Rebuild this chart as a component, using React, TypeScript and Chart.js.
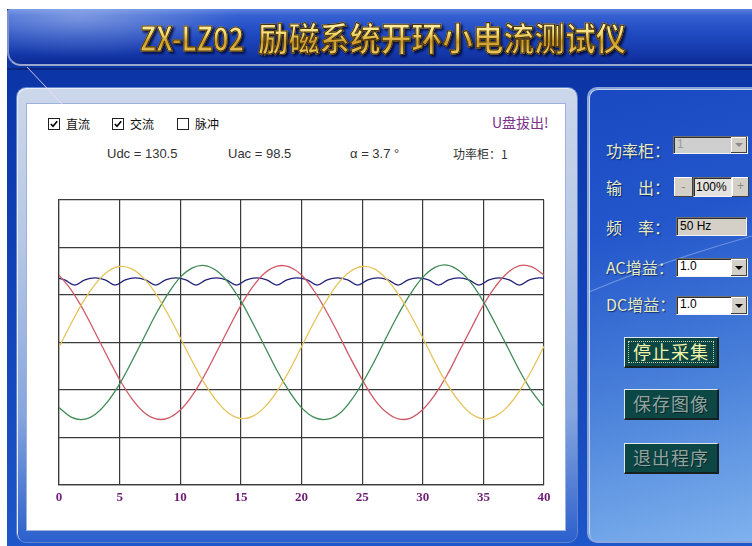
import React, { useEffect, useRef } from "react";
import { Chart, registerables } from "chart.js";

Chart.register(...registerables);

// ---------- data (time in ms, amplitude in grid divisions) ----------
const timeMs = [
  0, 1, 2, 3, 4, 5, 6, 7, 8, 9, 10, 11, 12, 13, 14, 15, 16, 17, 18, 19, 20,
  21, 22, 23, 24, 25, 26, 27, 28, 29, 30, 31, 32, 33, 34, 35, 36, 37, 38, 39, 40,
];
// yellow phase
const phaseA = [
  -0.1, 0.4, 0.86, 1.23, 1.49, 1.6, 1.55, 1.35, 1.02, 0.59, 0.1, -0.4, -0.86, -1.23, -1.49, -1.6, -1.55, -1.35, -1.02, -0.59,
  -0.09, 0.41, 0.86, 1.24, 1.49, 1.6, 1.55, 1.34, 1.01, 0.58, 0.1, -0.41, -0.87, -1.24, -1.5, -1.61, -1.55, -1.35, -1.01, -0.58,
  -0.08,
];
// green phase
const phaseB = [
  -1.37, -1.57, -1.62, -1.51, -1.25, -0.87, -0.4, 0.1, 0.6, 1.03, 1.37, 1.57, 1.62, 1.51, 1.25, 0.87, 0.4, -0.1, -0.6, -1.03,
  -1.37, -1.57, -1.62, -1.52, -1.25, -0.86, -0.4, 0.11, 0.6, 1.03, 1.37, 1.58, 1.63, 1.51, 1.25, 0.86, 0.39, -0.1, -0.6, -1.03,
  -1.36,
];
// red phase
const phaseC = [
  1.42, 1.11, 0.69, 0.2, -0.3, -0.78, -1.18, -1.47, -1.61, -1.59, -1.42, -1.11, -0.69, -0.2, 0.3, 0.78, 1.18, 1.47, 1.61, 1.59,
  1.42, 1.1, 0.68, 0.2, -0.31, -0.78, -1.19, -1.47, -1.61, -1.59, -1.41, -1.1, -0.69, -0.19, 0.3, 0.79, 1.18, 1.47, 1.62, 1.59,
  1.42,
];
// blue rectified DC ripple
const dcTime = [
  0, 0.47, 1.3, 2.13, 2.97, 3.8, 4.63, 5.47, 6.3, 7.13, 7.97, 8.8, 9.63, 10.47, 11.3, 12.13, 12.97, 13.8, 14.63, 15.47,
  16.3, 17.13, 17.97, 18.8, 19.63, 20.47, 21.3, 22.13, 22.97, 23.8, 24.63, 25.47, 26.3, 27.13, 27.97, 28.8, 29.63, 30.47,
  31.3, 32.13, 32.97, 33.8, 34.63, 35.47, 36.3, 37.13, 37.97, 38.8, 39.63, 40,
];
const dcValue = [
  1.35, 1.32, 1.21, 1.32, 1.36, 1.32, 1.21, 1.32, 1.36, 1.32, 1.21, 1.32, 1.36, 1.32, 1.21, 1.32, 1.36, 1.32, 1.21, 1.32,
  1.36, 1.32, 1.21, 1.32, 1.36, 1.32, 1.21, 1.32, 1.36, 1.32, 1.21, 1.32, 1.36, 1.32, 1.21, 1.32, 1.36, 1.32,
  1.21, 1.32, 1.36, 1.32, 1.21, 1.32, 1.36, 1.32, 1.21, 1.32, 1.36, 1.35,
];
const xMin = 0;
const xMax = 40;
const xStep = 5;
const yMin = -3;
const yMax = 3;

const CJK = '"Noto Sans CJK SC", "Noto Sans", sans-serif';
const SANS = '"Liberation Sans", Arial, sans-serif';

function Checkbox({ x, y, checked }: { x: number; y: number; checked: boolean }) {
  return (
    <div
      style={{
        position: "absolute",
        left: x,
        top: y,
        width: 12,
        height: 12,
        border: "1px solid #222",
        background: "#fff",
        boxSizing: "border-box",
      }}
    >
      {checked && (
        <svg width="10" height="10" style={{ position: "absolute", left: 0, top: 0 }}>
          <polyline points="1.8,5 4,7.3 8.2,2.2" fill="none" stroke="#000" strokeWidth="1.6" />
        </svg>
      )}
    </div>
  );
}

function ArrowBtn({ disabled }: { disabled: boolean }) {
  return (
    <div
      style={{
        position: "absolute",
        right: 0,
        top: 0,
        bottom: 0,
        width: 16,
        background: "#d4d0c8",
        boxShadow: "inset -1px -1px 0 #404040, inset 1px 1px 0 #fff",
        display: "flex",
        alignItems: "center",
        justifyContent: "center",
      }}
    >
      <div
        style={{
          width: 0,
          height: 0,
          borderLeft: "4px solid transparent",
          borderRight: "4px solid transparent",
          borderTop: `4px solid ${disabled ? "#8a8a8a" : "#000"}`,
        }}
      />
    </div>
  );
}

const sunken: React.CSSProperties = {
  position: "absolute",
  boxSizing: "border-box",
  borderTop: "1px solid #6e6e6e",
  borderLeft: "1px solid #6e6e6e",
  borderBottom: "1px solid #f4f4f4",
  borderRight: "1px solid #f4f4f4",
  boxShadow: "inset 1px 1px 0 #303030",
  fontFamily: SANS,
  fontSize: 12,
  lineHeight: "15px",
  paddingLeft: 3,
};

function Combo({ x, y, w, h, text, disabled }: { x: number; y: number; w: number; h: number; text: string; disabled: boolean }) {
  return (
    <div style={{ ...sunken, left: x, top: y, width: w, height: h, background: disabled ? "#cfcfcf" : "#fff", color: disabled ? "#9a9a9a" : "#000" }}>
      {text}
      <div style={{ position: "absolute", right: 0, top: 0, bottom: 0, width: 16 }}>
        <ArrowBtn disabled={disabled} />
      </div>
    </div>
  );
}

function TealButton({ top, text, active }: { top: number; text: string; active: boolean }) {
  return (
    <div
      style={{
        position: "absolute",
        left: 624,
        top,
        width: 95,
        height: 31,
        boxSizing: "border-box",
        background: "#0c4745",
        borderTop: "1px solid #dfe8e8",
        borderLeft: "1px solid #dfe8e8",
        borderRight: "2px solid #16201f",
        borderBottom: "2px solid #16201f",
        display: "flex",
        alignItems: "center",
        justifyContent: "center",
        color: active ? "#f3f3a8" : "#8fa4a1",
        fontFamily: CJK,
        fontSize: 18,
        letterSpacing: 1,
        textShadow: active ? "none" : "1px 1px 0 #062625",
      }}
    >
      {active && (
        <div style={{ position: "absolute", left: 3, top: 3, right: 3, bottom: 3, border: "1px dotted #c9d2a4" }} />
      )}
      <span style={{ position: "relative", top: -1 }}>{text}</span>
    </div>
  );
}

function Label({ x, y, text }: { x: number; y: number; text: string }) {
  return (
    <div
      style={{
        position: "absolute",
        left: x,
        top: y,
        fontFamily: CJK,
        fontSize: 16,
        lineHeight: "16px",
        color: "#e4ecc4",
        whiteSpace: "pre",
        textShadow: "1px 1px 1px rgba(0,0,40,0.55)",
      }}
    >
      {text}
    </div>
  );
}

const txt = (x: number, y: number, s: string, extra: React.CSSProperties = {}) => (
  <div style={{ position: "absolute", left: x, top: y, whiteSpace: "pre", ...extra }}>{s}</div>
);

const goldText: React.CSSProperties = {
  position: "absolute",
  top: 17,
  fontFamily: CJK,
  fontWeight: 700,
  fontSize: 33,
  lineHeight: "40px",
  whiteSpace: "pre",
  transformOrigin: "left center",
  background: "linear-gradient(180deg,#fffbd8 0%,#f6df78 40%,#c99a2a 62%,#f3d872 100%)",
  WebkitBackgroundClip: "text",
  backgroundClip: "text",
  color: "transparent",
  WebkitTextStroke: "1.2px #4e3406",
};

export default function App() {
  const canvasRef = useRef<HTMLCanvasElement>(null);

  useEffect(() => {
    const canvas = canvasRef.current;
    if (!canvas) return;
    const gridColor = "#3a3a3a";
    const mk = (xs: number[], ys: number[]) => xs.map((x, i) => ({ x, y: ys[i] }));
    const chart = new Chart(canvas, {
      type: "line",
      data: {
        datasets: [
          { label: "A", data: mk(timeMs, phaseA), borderColor: "#e5c35a", borderWidth: 1.3, pointRadius: 0, tension: 0.4 },
          { label: "B", data: mk(timeMs, phaseB), borderColor: "#3f8a55", borderWidth: 1.3, pointRadius: 0, tension: 0.4 },
          { label: "C", data: mk(timeMs, phaseC), borderColor: "#cf5a66", borderWidth: 1.3, pointRadius: 0, tension: 0.4 },
          { label: "Udc", data: mk(dcTime, dcValue), borderColor: "#22227a", borderWidth: 1.3, pointRadius: 0, tension: 0.4 },
        ],
      },
      options: {
        animation: false,
        responsive: false,
        maintainAspectRatio: false,
        layout: { padding: { left: 19, right: 16, top: 10, bottom: 0 } },
        plugins: { legend: { display: false }, tooltip: { enabled: false } },
        scales: {
          x: {
            type: "linear",
            min: xMin,
            max: xMax,
            ticks: {
              stepSize: xStep,
              color: "#6e1e74",
              padding: 5,
              maxRotation: 0,
              font: { family: '"Liberation Serif", serif', weight: "bold", size: 13 },
            },
            grid: { color: gridColor, lineWidth: 1.2, drawTicks: false },
            border: { color: gridColor, width: 1.2 },
            afterFit: (s: any) => {
              s.height = 25;
            },
          },
          y: {
            min: yMin,
            max: yMax,
            ticks: { stepSize: 1, display: false },
            grid: { color: gridColor, lineWidth: 1.2, drawTicks: false },
            border: { color: gridColor, width: 1.2 },
            afterFit: (s: any) => {
              s.width = 0;
            },
          },
        },
      },
    } as any);
    return () => chart.destroy();
  }, []);

  return (
    <div
      style={{
        position: "fixed",
        left: 0,
        top: 0,
        width: 752,
        height: 546,
        background: "#fff",
        overflow: "hidden",
        fontFamily: CJK,
      }}
    >
      {/* app background */}
      <div
        style={{
          position: "absolute",
          left: 7,
          top: 9,
          width: 745,
          height: 537,
          background: "linear-gradient(180deg,#0b31a0 0%,#0d3aae 25%,#1446bc 65%,#1d57c9 100%)",
        }}
      />
      {/* title bar */}
      <div
        style={{
          position: "absolute",
          left: 7,
          top: 9,
          width: 745,
          height: 57,
          boxSizing: "border-box",
          borderRadius: "3px 0 0 14px",
          background:
            "radial-gradient(ellipse 160px 40px at 70px 8px, rgba(255,255,255,0.35), rgba(255,255,255,0) 100%), linear-gradient(180deg,#5a82de 0%,#3560d2 12%,#1f49c0 45%,#1438aa 80%,#0d2b95 100%)",
          borderBottom: "2px solid #9aa7cb",
          borderLeft: "2px solid #7d92cc",
        }}
      />
      <div style={{ position: "absolute", left: 7, top: 68, width: 745, height: 2, background: "#0a2680" }} />

      {/* title text */}
      <div style={{ position: "absolute", left: 0, top: 0, filter: "drop-shadow(2px 2px 1px rgba(0,0,30,0.75))" }}>
        <div style={{ ...goldText, left: 140, transform: "scaleX(0.8)" }}>ZX-LZ02</div>
        <div style={{ ...goldText, left: 258, transform: "scaleX(0.93)" }}>励磁系统开环小电流测试仪</div>
      </div>

      {/* left panel frame */}
      <div
        style={{
          position: "absolute",
          left: 16,
          top: 87,
          width: 562,
          height: 456,
          boxSizing: "border-box",
          borderRadius: 10,
          background: "linear-gradient(180deg,#ccd7ea 0%,#b6c7e5 35%,#86a6de 72%,#2c60cc 100%)",
          border: "1px solid #5f82cf",
          boxShadow: "inset 1px 1px 0 #e6edf8",
        }}
      />
      {/* white plot panel */}
      <div
        style={{
          position: "absolute",
          left: 27,
          top: 104,
          width: 538,
          height: 426,
          background: "#fff",
          boxShadow: "0 0 0 1px #9db3dc",
        }}
      />

      {/* decorative streak */}
      <svg width="752" height="546" style={{ position: "absolute", left: 0, top: 0 }}>
        <line x1="27" y1="67" x2="62" y2="104" stroke="rgba(240,220,255,0.85)" strokeWidth="1" />
      </svg>

      {/* right panel */}
      <div
        style={{
          position: "absolute",
          left: 587,
          top: 87,
          width: 170,
          height: 456,
          boxSizing: "border-box",
          borderRadius: "10px 0 0 10px",
          background: "linear-gradient(165deg,#1a49c2 0%,#2356cb 30%,#4b82da 65%,#7fb2ee 100%)",
          border: "2px solid #8aa6dc",
          borderRight: "none",
          boxShadow: "inset 1px 1px 0 #c4d4f0",
        }}
      />
      <svg width="752" height="546" style={{ position: "absolute", left: 0, top: 0 }}>
        <path d="M 589 292 Q 660 262 752 236" fill="none" stroke="rgba(220,235,255,0.35)" strokeWidth="1.2" />
      </svg>

      {/* chart panel texts */}
      <Checkbox x={48} y={118} checked={true} />
      {txt(66, 116, "直流", { fontSize: 12, lineHeight: "16px", color: "#111" })}
      <Checkbox x={112} y={118} checked={true} />
      {txt(130, 116, "交流", { fontSize: 12, lineHeight: "16px", color: "#111" })}
      <Checkbox x={177} y={118} checked={false} />
      {txt(195, 116, "脉冲", { fontSize: 12, lineHeight: "16px", color: "#111" })}
      {txt(492, 113, "U盘拔出!", { fontSize: 14, lineHeight: "18px", color: "#7a3088" })}

      {txt(107, 145, "Udc = 130.5", { fontFamily: SANS, fontSize: 13, lineHeight: "17px", color: "#333" })}
      {txt(228, 145, "Uac = 98.5", { fontFamily: SANS, fontSize: 13, lineHeight: "17px", color: "#333" })}
      {txt(350, 145, "α = 3.7 °", { fontFamily: SANS, fontSize: 13, lineHeight: "17px", color: "#333" })}
      {txt(453, 145, "功率柜：1", { fontSize: 12, lineHeight: "17px", color: "#333" })}

      {/* chart */}
      <canvas
        ref={canvasRef}
        width={520}
        height={320}
        style={{ position: "absolute", left: 40, top: 190, width: 520, height: 320 }}
      />

      {/* right panel controls */}
      <Label x={606} y={142} text="功率柜：" />
      <Combo x={673} y={136} w={75} h={18} text="1" disabled={true} />

      <Label x={606} y={179} text={"输\u3000出："} />
      <div
        style={{
          position: "absolute",
          left: 674,
          top: 177,
          width: 19,
          height: 20,
          boxSizing: "border-box",
          background: "#d4d0c8",
          boxShadow: "inset -1px -1px 0 #404040, inset 1px 1px 0 #fff",
          color: "#8a8a8a",
          fontFamily: SANS,
          fontSize: 13,
          lineHeight: "19px",
          textAlign: "center",
        }}
      >
        -
      </div>
      <div
        style={{
          ...sunken,
          left: 693,
          top: 177,
          width: 39,
          height: 20,
          background: "#e4e2de",
          color: "#000",
          lineHeight: "18px",
          paddingLeft: 2,
        }}
      >
        100%
      </div>
      <div
        style={{
          position: "absolute",
          left: 732,
          top: 177,
          width: 17,
          height: 20,
          boxSizing: "border-box",
          background: "#d4d0c8",
          boxShadow: "inset -1px -1px 0 #404040, inset 1px 1px 0 #fff",
          color: "#8a8a8a",
          fontFamily: SANS,
          fontSize: 12,
          lineHeight: "19px",
          textAlign: "center",
        }}
      >
        +
      </div>

      <Label x={606} y={219} text={"频\u3000率："} />
      <div
        style={{
          ...sunken,
          left: 676,
          top: 217,
          width: 71,
          height: 19,
          background: "#d4d0c8",
          color: "#000",
          lineHeight: "17px",
        }}
      >
        50 Hz
      </div>

      <Label x={606} y={259} text="AC增益：" />
      <Combo x={676} y={258} w={72} h={19} text="1.0" disabled={false} />

      <Label x={606} y={296} text="DC增益：" />
      <Combo x={676} y={296} w={72} h={19} text="1.0" disabled={false} />

      <TealButton top={337} text="停止采集" active={true} />
      <TealButton top={389} text="保存图像" active={false} />
      <TealButton top={443} text="退出程序" active={false} />
    </div>
  );
}
